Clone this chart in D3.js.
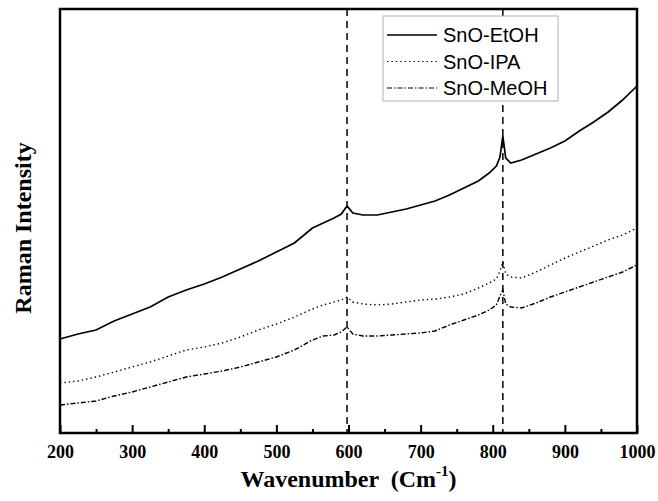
<!DOCTYPE html>
<html>
<head>
<meta charset="utf-8">
<script src="https://cdn.jsdelivr.net/npm/d3@7"></script>
<style>
  body { margin: 0; background: #fff; }
</style>
</head>
<body>
<svg id="chart"></svg>
<script>
// wavenumber grid (cm-1) and intensities (arbitrary units)
const wavenumbers = [200, 225, 250, 275, 300, 325, 350, 375, 400, 425, 450, 475, 500, 525, 550, 565, 580, 590, 598, 606,
  620, 640, 660, 680, 700, 720, 740, 760, 780, 795, 805, 810, 814, 818, 825, 840, 860, 880, 900, 920, 940, 960, 980, 1000];
const etohValues = [940, 990, 1030, 1120, 1190, 1260, 1360, 1430, 1490, 1560, 1640, 1720, 1810, 1900, 2050, 2100, 2150, 2190, 2270, 2200,
  2180, 2180, 2210, 2240, 2280, 2320, 2380, 2450, 2520, 2600, 2670, 2760, 2970, 2750, 2700, 2730, 2790, 2850, 2920, 3020, 3110, 3210, 3330, 3470];
const ipaValues = [500, 520, 560, 610, 660, 710, 770, 830, 860, 900, 960, 1030, 1090, 1160, 1240, 1280, 1310, 1330, 1360, 1310,
  1290, 1280, 1290, 1310, 1330, 1340, 1360, 1390, 1450, 1500, 1540, 1620, 1710, 1590, 1560, 1550, 1610, 1680, 1750, 1810, 1870, 1930, 1980, 2050];
const meohValues = [280, 300, 320, 370, 410, 460, 510, 560, 590, 620, 660, 710, 760, 830, 930, 970, 980, 1010, 1060, 990,
  970, 970, 980, 990, 1000, 1020, 1080, 1130, 1180, 1230, 1280, 1370, 1430, 1290, 1260, 1250, 1300, 1360, 1410, 1460, 1510, 1560, 1610, 1680];
const seriesNames = ['SnO-EtOH', 'SnO-IPA', 'SnO-MeOH'];
const majorTicks = [200, 300, 400, 500, 600, 700, 800, 900, 1000];
const minorTicks = [250, 350, 450, 550, 650, 750, 850, 950];
const peakLines = [598, 814];

const margin = { top: 9, right: 21, bottom: 68, left: 60 };
const width = 658 - margin.left - margin.right;
const height = 501 - margin.top - margin.bottom;
const serif = '"Liberation Serif", "Times New Roman", serif';
const sans = '"Liberation Sans", Arial, sans-serif';

const svg = d3.select('#chart')
  .attr('width', 658)
  .attr('height', 501);

const g = svg.append('g')
  .attr('transform', `translate(${margin.left},${margin.top})`);

const x = d3.scaleLinear().domain([200, 1000]).range([0, width]);
const y = d3.scaleLinear().domain([0, 4240]).range([height, 0]);

// line styles per series
const dashes = { 'SnO-EtOH': null, 'SnO-IPA': '1.4 3', 'SnO-MeOH': '5 2 1.5 2' };
const widths = { 'SnO-EtOH': 1.7, 'SnO-IPA': 1.4, 'SnO-MeOH': 1.4 };

const series = [
  { name: 'SnO-EtOH', values: etohValues },
  { name: 'SnO-IPA', values: ipaValues },
  { name: 'SnO-MeOH', values: meohValues }
];

// dashed marker lines at the peaks
g.selectAll('.peak')
  .data(peakLines)
  .enter().append('line')
  .attr('x1', d => x(d))
  .attr('x2', d => x(d))
  .attr('y1', 0)
  .attr('y2', height)
  .attr('stroke', '#000')
  .attr('stroke-width', 1.5)
  .attr('stroke-dasharray', '7 5');

const line = d3.line()
  .x((d, i) => x(wavenumbers[i]))
  .y(d => y(d));

g.selectAll('.series')
  .data(series)
  .enter().append('path')
  .attr('fill', 'none')
  .attr('stroke', '#000')
  .attr('stroke-width', d => widths[d.name])
  .attr('stroke-dasharray', d => dashes[d.name])
  .attr('d', d => line(d.values));

// ticks (inward)
const major = g.append('g')
  .attr('transform', `translate(0,${height})`)
  .call(d3.axisBottom(x).tickValues(majorTicks).tickSize(-8).tickPadding(12).tickFormat(d3.format('d')));
major.select('.domain').remove();
major.selectAll('line').attr('stroke-width', 2);
major.selectAll('text')
  .attr('fill', '#000')
  .style('font-family', serif)
  .style('font-weight', 'bold')
  .style('font-size', '18px');

const minor = g.append('g')
  .attr('transform', `translate(0,${height})`)
  .call(d3.axisBottom(x).tickValues(minorTicks).tickSize(-4).tickFormat(''));
minor.select('.domain').remove();
minor.selectAll('line').attr('stroke-width', 2);

// frame
g.append('rect')
  .attr('width', width)
  .attr('height', height)
  .attr('fill', 'none')
  .attr('stroke', '#000')
  .attr('stroke-width', 2.5);

// axis titles
const xt = svg.append('text')
  .attr('x', margin.left + width / 2)
  .attr('y', 487)
  .attr('text-anchor', 'middle')
  .style('white-space', 'pre')
  .style('font-family', serif)
  .style('font-weight', 'bold')
  .style('font-size', '24px');
xt.append('tspan').text('Wavenumber  (Cm');
xt.append('tspan').attr('dy', -11).style('font-size', '15px').text('-1');
xt.append('tspan').attr('dy', 11).text(')');

svg.append('text')
  .attr('transform', 'translate(31,228) rotate(-90)')
  .attr('text-anchor', 'middle')
  .style('font-family', serif)
  .style('font-weight', 'bold')
  .style('font-size', '24px')
  .text('Raman Intensity');

// legend
const legend = svg.append('g').attr('transform', 'translate(383,16)');
legend.append('rect')
  .attr('width', 175)
  .attr('height', 85)
  .attr('fill', '#fff')
  .attr('stroke', '#b0b0b0')
  .attr('stroke-width', 1);

const item = legend.selectAll('.item')
  .data(seriesNames)
  .enter().append('g')
  .attr('transform', (d, i) => `translate(0,${19 + i * 26.5})`);

item.append('line')
  .attr('x1', 4)
  .attr('x2', 54)
  .attr('stroke', '#000')
  .attr('stroke-width', d => widths[d] - 0.3)
  .attr('stroke-dasharray', d => dashes[d]);

item.append('text')
  .attr('x', 60)
  .attr('dy', '0.35em')
  .style('font-family', sans)
  .style('font-size', '20px')
  .text(d => d);
</script>
</body>
</html>
